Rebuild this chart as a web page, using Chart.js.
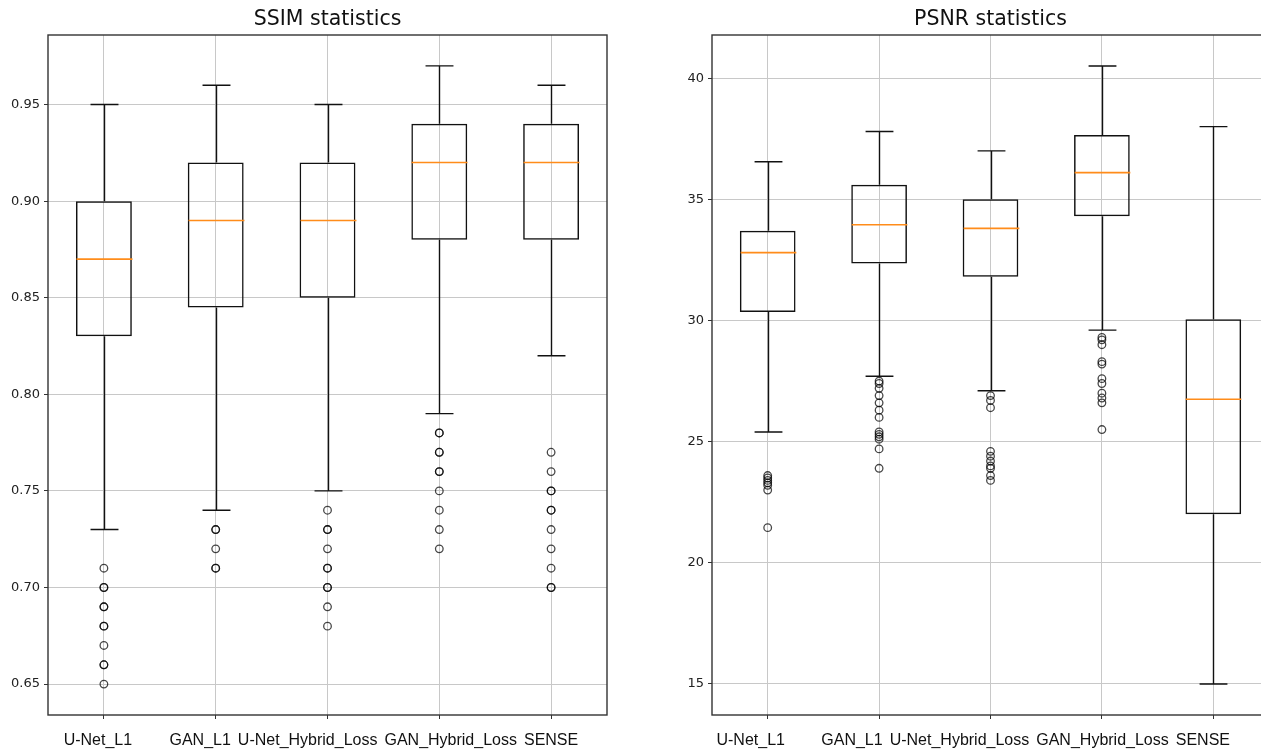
<!DOCTYPE html>
<html>
<head>
<meta charset="utf-8">
<script src="https://cdn.jsdelivr.net/npm/chart.js@4/dist/chart.umd.min.js"></script>
<style>
  html, body { margin: 0; padding: 0; background: #fff; overflow: hidden; }
  body { width: 1261px; height: 749px; position: relative; }
  .panel { position: absolute; top: 0; }
  #ssimWrap { left: 0; }
  #psnrWrap { left: 650px; }
</style>
</head>
<body>
<div class="panel" id="ssimWrap"><canvas id="ssimChart" width="620" height="749"></canvas></div>
<div class="panel" id="psnrWrap"><canvas id="psnrChart" width="625" height="749"></canvas></div>
<script>
"use strict";

const CATEGORIES = ["U-Net_L1", "GAN_L1", "U-Net_Hybrid_Loss", "GAN_Hybrid_Loss", "SENSE"];

// SSIM box statistics
const SSIM_LOW    = [0.73, 0.74, 0.75, 0.79, 0.82];
const SSIM_Q1     = [0.83, 0.845, 0.85, 0.88, 0.88];
const SSIM_MEDIAN = [0.87, 0.89, 0.89, 0.92, 0.92];
const SSIM_Q3     = [0.90, 0.92, 0.92, 0.94, 0.94];
const SSIM_HIGH   = [0.95, 0.96, 0.95, 0.97, 0.96];
const SSIM_OUTLIERS = [
  [0.71, 0.70, 0.70, 0.69, 0.69, 0.68, 0.68, 0.67, 0.66, 0.66, 0.65],
  [0.73, 0.73, 0.72, 0.71, 0.71],
  [0.74, 0.73, 0.73, 0.72, 0.71, 0.71, 0.70, 0.70, 0.69, 0.68],
  [0.78, 0.78, 0.77, 0.77, 0.76, 0.76, 0.75, 0.74, 0.73, 0.72],
  [0.77, 0.76, 0.75, 0.75, 0.74, 0.74, 0.73, 0.72, 0.71, 0.70, 0.70],
];
const SSIM_RANGE = [0.634, 0.986];

// PSNR box statistics
const PSNR_LOW    = [25.4, 27.7, 27.1, 29.6, 15.0];
const PSNR_Q1     = [30.35, 32.35, 31.8, 34.3, 22.0];
const PSNR_MEDIAN = [32.8, 33.95, 33.8, 36.1, 26.75];
const PSNR_Q3     = [33.7, 35.6, 35.0, 37.65, 30.05];
const PSNR_HIGH   = [36.55, 37.8, 37.0, 40.5, 38.0];
const PSNR_OUTLIERS = [
  [23.6, 23.5, 23.4, 23.3, 23.2, 23.0, 21.45],
  [27.5, 27.4, 27.2, 26.9, 26.6, 26.3, 26.0, 25.4, 25.3, 25.2, 25.1, 24.7, 23.9],
  [26.9, 26.7, 26.4, 24.6, 24.4, 24.2, 24.0, 23.9, 23.6, 23.4],
  [29.3, 29.2, 29.0, 28.3, 28.2, 27.6, 27.4, 27.0, 26.8, 26.6, 25.5],
  [],
];
const PSNR_RANGE = [13.72, 41.78];

const boxExtras = {
  id: "boxExtras",
  afterDatasetsDraw(chart, args, opts) {
    const { ctx, chartArea: area } = chart;
    const x = chart.scales.x, y = chart.scales.y;
    const step = x.getPixelForValue(1) - x.getPixelForValue(0);
    const bars = chart.getDatasetMeta(0).data;
    ctx.save();
    ctx.lineCap = "butt";
    opts.low.forEach((lo, i) => {
      const cx = Math.round(x.getPixelForValue(i)) + 0.5;
      const half = bars[i].width / 2;
      const cap = step * 0.125;
      ctx.strokeStyle = "#111";
      ctx.lineWidth = 1.4;
      ctx.beginPath();
      ctx.moveTo(cx, y.getPixelForValue(lo));
      ctx.lineTo(cx, y.getPixelForValue(opts.q1[i]));
      ctx.moveTo(cx, y.getPixelForValue(opts.q3[i]));
      ctx.lineTo(cx, y.getPixelForValue(opts.high[i]));
      ctx.moveTo(cx - cap, y.getPixelForValue(lo));
      ctx.lineTo(cx + cap, y.getPixelForValue(lo));
      ctx.moveTo(cx - cap, y.getPixelForValue(opts.high[i]));
      ctx.lineTo(cx + cap, y.getPixelForValue(opts.high[i]));
      ctx.stroke();
      ctx.strokeStyle = "#ff8c1a";
      ctx.lineWidth = 1.6;
      ctx.beginPath();
      ctx.moveTo(cx - half, y.getPixelForValue(opts.median[i]));
      ctx.lineTo(cx + half, y.getPixelForValue(opts.median[i]));
      ctx.stroke();
    });
    // axes frame
    ctx.strokeStyle = "#333";
    ctx.lineWidth = 1.4;
    ctx.strokeRect(area.left, area.top, area.right - area.left, area.bottom - area.top);
    ctx.restore();
  },
  afterDraw(chart, args, opts) {
    const { ctx, chartArea: area } = chart;
    const x = chart.scales.x;
    ctx.save();
    ctx.fillStyle = "#111";
    ctx.textBaseline = "middle";
    ctx.textAlign = "center";
    ctx.font = '20.5px "DejaVu Sans"';
    ctx.fillText(opts.title, (area.left + area.right) / 2, 20);

    // category labels, nudged apart where they would collide
    ctx.font = '16px "Liberation Sans"';
    ctx.textAlign = "left";
    const items = CATEGORIES.map((c, i) => {
      const w = ctx.measureText(c).width;
      return { text: c, w, left: x.getPixelForValue(i) - w / 2 };
    });
    const minGap = 7;
    for (let k = 0; k < 30; k++) {
      for (let i = 0; i < items.length - 1; i++) {
        const gap = items[i + 1].left - (items[i].left + items[i].w);
        if (gap < minGap) {
          const s = (minGap - gap) / 2;
          items[i].left -= s;
          items[i + 1].left += s;
        }
      }
    }
    items.forEach(it => ctx.fillText(it.text, it.left + opts.labelShift, area.bottom + 26));
    ctx.restore();
  },
};

function makePanel(canvasId, title, stats, outliers, range, stepSize, digits, yWidth, padRight, labelShift) {
  const points = [];
  outliers.forEach((vals, i) => vals.forEach(v => points.push({ x: CATEGORIES[i], y: v })));
  return new Chart(document.getElementById(canvasId), {
    type: "bar",
    data: {
      labels: CATEGORIES,
      datasets: [
        {
          type: "bar",
          data: stats.q1.map((v, i) => [v, stats.q3[i]]),
          backgroundColor: "rgba(0,0,0,0)",
          borderColor: "#111",
          borderWidth: 1.5,
          borderSkipped: false,
          categoryPercentage: 1,
          barPercentage: 0.5,
        },
        {
          type: "scatter",
          data: points,
          pointRadius: 3.8,
          pointBorderWidth: 1.3,
          pointBorderColor: "rgba(0,0,0,0.72)",
          pointBackgroundColor: "rgba(0,0,0,0)",
          showLine: false,
        },
      ],
    },
    options: {
      responsive: false,
      animation: false,
      layout: { padding: { top: 35, right: padRight, left: 0, bottom: 0 } },
      scales: {
        x: {
          type: "category",
          offset: true,
          grid: { offset: false, color: "#c8c8c8", lineWidth: 1, tickLength: 4, tickColor: "#333" },
          border: { display: false },
          ticks: { display: false },
          afterFit: s => { s.height = 34; },
        },
        y: {
          type: "linear",
          min: range[0],
          max: range[1],
          grid: { color: "#c8c8c8", lineWidth: 1, tickLength: 4, tickColor: "#333" },
          border: { display: false },
          ticks: {
            stepSize,
            includeBounds: false,
            padding: 4,
            color: "#222",
            font: { family: "DejaVu Sans", size: 13 },
            callback: v => Number(v).toFixed(digits),
          },
          afterFit: s => { s.width = yWidth; },
        },
      },
      plugins: {
        legend: { display: false },
        tooltip: { enabled: false },
        boxExtras: { title, labelShift, ...stats },
      },
    },
    plugins: [boxExtras],
  });
}

makePanel("ssimChart", "SSIM statistics",
  { low: SSIM_LOW, q1: SSIM_Q1, median: SSIM_MEDIAN, q3: SSIM_Q3, high: SSIM_HIGH },
  SSIM_OUTLIERS, SSIM_RANGE, 0.05, 2, 48, 13, -6);

makePanel("psnrChart", "PSNR statistics",
  { low: PSNR_LOW, q1: PSNR_Q1, median: PSNR_MEDIAN, q3: PSNR_Q3, high: PSNR_HIGH },
  PSNR_OUTLIERS, PSNR_RANGE, 5, 0, 62, 6, -17);
</script>
</body>
</html>
